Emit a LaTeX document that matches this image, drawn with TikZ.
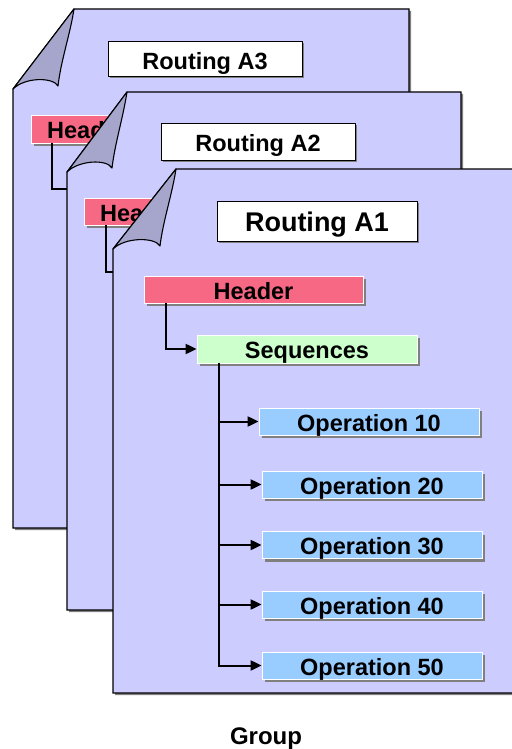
\documentclass[tikz,border=0pt]{standalone}
\usepackage{fontspec}
\setmainfont{Liberation Sans}
\usetikzlibrary{arrows.meta,shadows}
\definecolor{pagefill}{HTML}{CCCCFF}
\definecolor{curlfill}{HTML}{A6A6CC}
\definecolor{hdrfill}{HTML}{F66884}
\definecolor{seqfill}{HTML}{CCFFCC}
\definecolor{opfill}{HTML}{99CCFF}
\definecolor{shadowgray}{HTML}{808080}
\tikzset{
  page/.style={draw=black, line width=1.2pt, fill=pagefill,
    drop shadow={shadow xshift=2pt, shadow yshift=-2pt, opacity=1, fill=shadowgray}},
  curl/.style={draw=black, line width=1.1pt, fill=curlfill, line join=round},
  txt/.style={font=\fontsize{23.5}{26}\selectfont\bfseries, inner sep=0pt,
    text height=19.5pt, text depth=0pt},
  titlebox/.style={txt, draw=black, line width=1pt, fill=white,
    drop shadow={shadow xshift=1.5pt, shadow yshift=-1.5pt, opacity=1, fill=shadowgray}},
  colbox/.style={txt, draw=white, line width=0.8pt, minimum height=27pt,
    drop shadow={shadow xshift=3pt, shadow yshift=-3pt, opacity=1, fill=shadowgray}},
  hdrbox/.style={colbox, fill=hdrfill},
  seqbox/.style={colbox, fill=seqfill, minimum width=220pt, minimum height=28pt},
  opbox/.style={colbox, fill=opfill, minimum width=220pt},
  conn/.style={line width=2pt, -{Stealth[inset=0pt, length=11pt, width=10pt]}},
  line/.style={line width=2pt}
}
\begin{document}
\begin{tikzpicture}[x=1pt,y=-1pt]
	\useasboundingbox (0,0) rectangle (511,749);

	% Routing A3
	\draw[page] (74,9) -- (409,9) -- (409,528) -- (13,528) -- (13,89) -- cycle;
	\draw[curl] (74,9) .. controls (70,35) and (61,60) .. (58,86)
		.. controls (53,77) and (25,77) .. (13,89) -- cycle;
	\node[titlebox, minimum width=194pt, minimum height=35pt] (titleA3) at (205,59.5) {Routing A3};
	\node[hdrbox, minimum width=112pt, minimum height=28pt] (hdrA3) at (87,129) {Header};
	\coordinate (seqA3) at (100,189);
	\draw[line] ([xshift=21pt]hdrA3.south west) |- (seqA3);

	% Routing A2
	\draw[page] (127,92) -- (461,92) -- (461,610) -- (67,610) -- (67,172) -- cycle;
	\draw[curl] (127,92) .. controls (123,118) and (115,143) .. (112,168)
		.. controls (107,159) and (79,160) .. (67,172) -- cycle;
	\node[titlebox, minimum width=194pt, minimum height=36pt] (titleA2) at (258,142) {Routing A2};
	\node[hdrbox, minimum width=112pt] (hdrA2) at (140,211.5) {Header};
	\coordinate (seqA2) at (150,272);
	\draw[line] ([xshift=22pt]hdrA2.south west) |- (seqA2);

	% Routing A1
	\draw[page] (176,169) -- (513,169) -- (513,693) -- (113,693) -- (113,249) -- cycle;
	\draw[curl] (176,169) .. controls (172,195) and (163,221) .. (160,246)
		.. controls (155,237) and (125,237) .. (113,249) -- cycle;
	\node[titlebox, font=\fontsize{27}{30}\selectfont\bfseries, text height=21pt, minimum width=200pt, minimum height=40pt] (titleA1) at (317,221) {Routing A1};
	\node[hdrbox, minimum width=219pt] (hdrA1) at (253.5,289.5) {Header};
	\node[seqbox] (seqA1) at (307,349) {Sequences};
	\draw[conn] ([xshift=22pt]hdrA1.south west) |- (seqA1.west);

	\node[opbox] (op10) at (369,421.5) {Operation 10};
	\node[opbox] (op20) at (372,484.5) {Operation 20};
	\node[opbox] (op30) at (372,545) {Operation 30};
	\node[opbox] (op40) at (372,604.5) {Operation 40};
	\node[opbox] (op50) at (372,665.5) {Operation 50};

	\coordinate (trunk) at ([xshift=22pt]seqA1.south west);
	\draw[conn] (trunk) |- (op50.west);
	\draw[conn] (trunk |- op10.west) -- (op10.west);
	\draw[conn] (trunk |- op20.west) -- (op20.west);
	\draw[conn] (trunk |- op30.west) -- (op30.west);
	\draw[conn] (trunk |- op40.west) -- (op40.west);

	\node[font=\fontsize{24}{28}\selectfont\bfseries, inner sep=0pt, anchor=base] (group) at (266,744) {Group};
\end{tikzpicture}
\end{document}
